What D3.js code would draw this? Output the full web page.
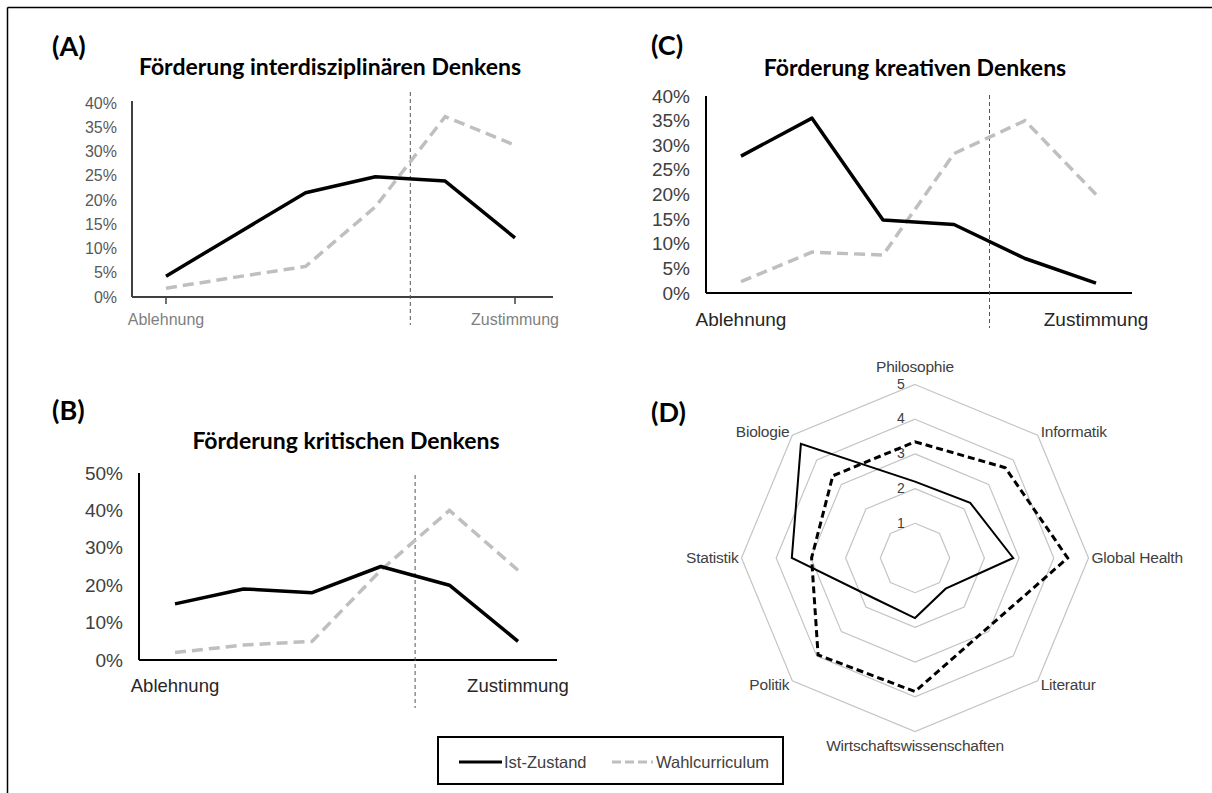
<!DOCTYPE html>
<html>
<head>
<meta charset="utf-8">
<script src="https://cdn.jsdelivr.net/npm/d3@7"></script>
<style>
  body { margin: 0; background: #fff; }
  svg { display: block; }
</style>
</head>
<body>
<svg id="chart" width="1212" height="793"></svg>
<script>
// Response categories (6-point scale, only the ends are labelled)
const categories = [1, 2, 3, 4, 5, 6]
const scaleLabels = ["Ablehnung", "Zustimmung"]
const seriesNames = ["Ist-Zustand", "Wahlcurriculum"]

// (A) Förderung interdisziplinären Denkens, in %
const interIst = [4.3, 12.9, 21.5, 24.8, 23.9, 12.2]
const interWahl = [1.8, 4.1, 6.3, 18.6, 37.2, 31.3]

// (B) Förderung kritischen Denkens, in %
const kritIst = [15, 19, 18, 25, 20, 5]
const kritWahl = [2, 4, 5, 24, 40, 24]

// (C) Förderung kreativen Denkens, in %
const kreaIst = [27.8, 35.5, 14.8, 13.9, 7.0, 2.0]
const kreaWahl = [2.3, 8.3, 7.7, 28.3, 35.0, 20.0]

// (D) radar, 1..5
const subjects = ["Philosophie", "Informatik", "Global Health", "Literatur",
  "Wirtschaftswissenschaften", "Politik", "Statistik", "Biologie"]
const radarIst = [2.2, 2.25, 2.83, 1.25, 1.73, 1.65, 3.55, 4.65]
const radarWahl = [3.35, 3.68, 4.4, 2.9, 3.85, 3.95, 2.98, 3.35]
const radarLevels = [1, 2, 3, 4, 5]

const svg = d3.select("#chart")
const LABEL_FONT = "'Liberation Sans', Arial, sans-serif"
const TITLE_FONT = "Lato, 'Open Sans', sans-serif"

svg.append("rect").attr("width", 1212).attr("height", 793).attr("fill", "#fff")

// frame (only top and left edges are visible)
svg.append("line").attr("x1", 7.5).attr("x2", 1212).attr("y1", 7.5).attr("y2", 7.5)
  .attr("stroke", "#000").attr("stroke-width", 1.5)
svg.append("line").attr("x1", 7.5).attr("x2", 7.5).attr("y1", 7.5).attr("y2", 793)
  .attr("stroke", "#000").attr("stroke-width", 1.5)

function linePanel(cfg) {
  const g = svg.append("g")

  const x = d3.scalePoint().domain(categories).range(cfg.catRange)
  const y = d3.scaleLinear().domain([0, cfg.max]).range([cfg.yBottom, cfg.yTop])

  g.append("text")
    .attr("x", cfg.letter[0]).attr("y", cfg.letter[1])
    .style("font-family", TITLE_FONT).style("font-weight", 700)
    .style("font-size", "27px").attr("fill", "#000")
    .text(cfg.letterText)

  g.append("text")
    .attr("x", cfg.title[0]).attr("y", cfg.title[1])
    .attr("text-anchor", "middle")
    .style("font-family", TITLE_FONT).style("font-weight", 700)
    .style("font-size", "23px").attr("fill", "#000")
    .text(cfg.titleText)

  // y axis: labels only, no tick marks
  const yAxis = d3.axisLeft(y)
    .tickValues(d3.range(0, cfg.max + 0.001, cfg.step))
    .tickFormat(d => d + "%")
    .tickSize(0).tickPadding(cfg.tickPad)
  const ya = g.append("g").attr("transform", `translate(${cfg.axisX},0)`).call(yAxis)
  ya.select(".domain").remove()
  ya.selectAll("text")
    .style("font-family", LABEL_FONT).style("font-size", cfg.tickFont)
    .attr("fill", cfg.tickColor)

  g.append("line")
    .attr("x1", cfg.axisX).attr("x2", cfg.axisX)
    .attr("y1", cfg.yTop - cfg.axisOver).attr("y2", cfg.yBottom)
    .attr("stroke", cfg.axisColor).attr("stroke-width", 2)
  g.append("line")
    .attr("x1", cfg.axisX).attr("x2", cfg.axisEnd)
    .attr("y1", cfg.yBottom).attr("y2", cfg.yBottom)
    .attr("stroke", cfg.axisColor).attr("stroke-width", 2)

  // end ticks and labels on the x axis
  const ends = [categories[0], categories[categories.length - 1]]
  if (cfg.endTicks) {
    g.selectAll(".endtick").data(ends).join("line")
      .attr("x1", d => x(d)).attr("x2", d => x(d))
      .attr("y1", cfg.yBottom).attr("y2", cfg.yBottom + 7)
      .attr("stroke", cfg.axisColor).attr("stroke-width", 1.5)
  }
  g.selectAll(".endlabel").data(ends).join("text")
    .attr("x", d => x(d)).attr("y", cfg.endLabelY)
    .attr("text-anchor", "middle")
    .style("font-family", LABEL_FONT).style("font-size", cfg.endFont)
    .attr("fill", cfg.endColor)
    .text((d, i) => scaleLabels[i])

  // divider between category 4 and 5
  const xm = (x(categories[3]) + x(categories[4])) / 2
  g.append("line")
    .attr("x1", xm).attr("x2", xm)
    .attr("y1", cfg.vline[0]).attr("y2", cfg.vline[1])
    .attr("stroke", "#555").attr("stroke-width", 1)
    .attr("stroke-dasharray", "4,3")

  const line = d3.line().x((d, i) => x(categories[i])).y(d => y(d))

  g.append("path").datum(cfg.wahl)
    .attr("d", line).attr("fill", "none")
    .attr("stroke", "#bfbfbf").attr("stroke-width", 3.5)
    .attr("stroke-dasharray", "11,6")
  g.append("path").datum(cfg.ist)
    .attr("d", line).attr("fill", "none")
    .attr("stroke", "#000").attr("stroke-width", 3.5)
    .attr("stroke-linejoin", "round")
}

linePanel({
  letterText: "(A)", letter: [52, 56],
  titleText: "Förderung interdisziplinären Denkens", title: [330, 75],
  axisX: 132, axisEnd: 553, yBottom: 297, yTop: 103, axisOver: 2, max: 40, step: 5,
  tickPad: 15, tickFont: "16px", tickColor: "#595959", axisColor: "#404040",
  catRange: [166, 515], endTicks: true,
  endLabelY: 325, endFont: "16px", endColor: "#7f7f7f",
  vline: [92, 325], ist: interIst, wahl: interWahl
})

linePanel({
  letterText: "(B)", letter: [52, 420],
  titleText: "Förderung kritischen Denkens", title: [346, 449],
  axisX: 139, axisEnd: 557, yBottom: 660, yTop: 473, axisOver: 0, max: 50, step: 10,
  tickPad: 16, tickFont: "19px", tickColor: "#404040", axisColor: "#000",
  catRange: [175, 518], endTicks: false,
  endLabelY: 692, endFont: "18.5px", endColor: "#262626",
  vline: [475, 708], ist: kritIst, wahl: kritWahl
})

linePanel({
  letterText: "(C)", letter: [651, 55],
  titleText: "Förderung kreativen Denkens", title: [915, 76],
  axisX: 706, axisEnd: 1132, yBottom: 293, yTop: 96, axisOver: 0, max: 40, step: 5,
  tickPad: 16, tickFont: "19px", tickColor: "#404040", axisColor: "#000",
  catRange: [741, 1096], endTicks: false,
  endLabelY: 326, endFont: "19px", endColor: "#262626",
  vline: [95, 328], ist: kreaIst, wahl: kreaWahl
})

// (D) radar
const cx = 915, cy = 558
const r = d3.scaleLinear().domain([0, 5]).range([0, 173.5])
const angle = d3.scalePoint().domain(subjects).range([0, 2 * Math.PI * 7 / 8])
const pt = (s, v) => [cx + r(v) * Math.sin(angle(s)), cy - r(v) * Math.cos(angle(s))]

const gd = svg.append("g")
gd.append("text")
  .attr("x", 651).attr("y", 422)
  .style("font-family", TITLE_FONT).style("font-weight", 700)
  .style("font-size", "27px").text("(D)")

gd.selectAll(".ring").data(radarLevels).join("polygon")
  .attr("points", lv => subjects.map(s => pt(s, lv).join(",")).join(" "))
  .attr("fill", "none").attr("stroke", "#c4c4c4").attr("stroke-width", 1.2)

gd.selectAll(".lvl").data(radarLevels).join("text")
  .attr("x", cx - 14).attr("y", lv => cy - r(lv))
  .attr("dy", "0.3em").attr("text-anchor", "middle")
  .style("font-family", LABEL_FONT).style("font-size", "14px")
  .attr("fill", "#404040").text(d => d)

const radarLine = d3.lineRadial()
  .angle((d, i) => angle(subjects[i]))
  .radius(d => r(d))
  .curve(d3.curveLinearClosed)

gd.append("path").datum(radarWahl)
  .attr("transform", `translate(${cx},${cy})`)
  .attr("d", radarLine).attr("fill", "none")
  .attr("stroke", "#000").attr("stroke-width", 3)
  .attr("stroke-dasharray", "7,4")
gd.append("path").datum(radarIst)
  .attr("transform", `translate(${cx},${cy})`)
  .attr("d", radarLine).attr("fill", "none")
  .attr("stroke", "#000").attr("stroke-width", 2)

// subject labels around the outer ring
gd.selectAll(".subj").data(subjects).join("text")
  .each(function (s) {
    const a = angle(s)
    const [px, py] = pt(s, 5)
    const sx = Math.sin(a), sy = -Math.cos(a)
    let anchor = "middle", dx = 0, dy = 0
    if (sx > 0.1) { anchor = "start"; dx = 3 }
    else if (sx < -0.1) { anchor = "end"; dx = -3 }
    if (sy < -0.9) dy = -18
    else if (sy > 0.9) dy = 14
    else if (sy < -0.1) dy = -4
    else if (sy > 0.1) dy = 4
    d3.select(this)
      .attr("x", px + dx).attr("y", py + dy)
      .attr("dy", "0.35em").attr("text-anchor", anchor)
  })
  .style("font-family", LABEL_FONT).style("font-size", "15.5px")
  .style("letter-spacing", "-0.2px")
  .attr("fill", "#404040").text(d => d)

// legend
const lg = svg.append("g").attr("transform", "translate(438,737)")
lg.append("rect").attr("width", 345).attr("height", 47)
  .attr("fill", "#fff").attr("stroke", "#000").attr("stroke-width", 2)
lg.append("line").attr("x1", 21).attr("x2", 64).attr("y1", 25).attr("y2", 25)
  .attr("stroke", "#000").attr("stroke-width", 3)
lg.append("text").attr("x", 66).attr("y", 25).attr("dy", "0.35em")
  .style("font-family", LABEL_FONT).style("font-size", "16.5px")
  .attr("fill", "#404040").text(seriesNames[0])
lg.append("line").attr("x1", 174).attr("x2", 215).attr("y1", 25).attr("y2", 25)
  .attr("stroke", "#bfbfbf").attr("stroke-width", 3)
  .attr("stroke-dasharray", "9,4")
lg.append("text").attr("x", 218).attr("y", 25).attr("dy", "0.35em")
  .style("font-family", LABEL_FONT).style("font-size", "16.5px")
  .attr("fill", "#404040").text(seriesNames[1])
</script>
</body>
</html>
